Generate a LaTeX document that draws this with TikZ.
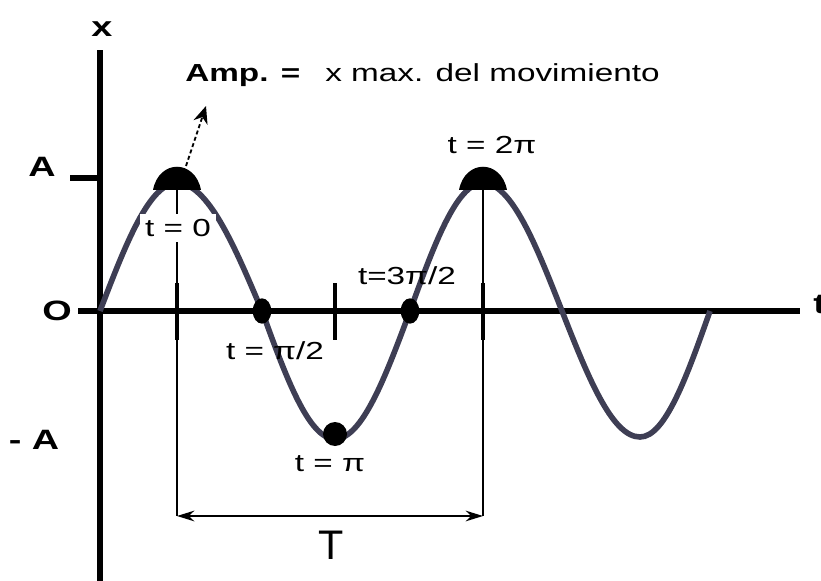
\documentclass[tikz,border=0pt]{standalone}
\usepackage{fontspec}
\setmainfont{Liberation Sans}[FakeStretch=1.35]
\newfontfamily\plainf{Liberation Sans}
\usetikzlibrary{arrows.meta,shapes.geometric}
\definecolor{wavecol}{RGB}{62,62,84}
\begin{document}
\begin{tikzpicture}[x=0.75pt,y=-0.75pt,
  lbl/.style={font=\fontsize{18.5}{20}\selectfont, inner sep=0pt},
  axlbl/.style={font=\fontsize{21}{22}\selectfont\bfseries, inner sep=0pt},
  axisline/.style={line width=5pt},
  tickline/.style={line width=3.6pt},
  guide/.style={line width=1.5pt},
  wave/.style={wavecol, line width=4.2pt},
  zdot/.style={ellipse, fill=black, inner sep=0pt, minimum width=14pt, minimum height=19pt},
  tdot/.style={circle, fill=black, inner sep=0pt, minimum size=18pt},
  blob/.style={fill=black}
]
\useasboundingbox (0,0) rectangle (821,581);

% coordinates
\coordinate (ytop) at (100,50);
\coordinate (ybot) at (100,585);
\coordinate (xl0) at (78,311);
\coordinate (xr0) at (800,311);
\coordinate (atick) at (70,178);
\coordinate (aaxis) at (100,178);
\coordinate (o) at (100,311);
\coordinate (pk1) at (177,183);
\coordinate (z1) at (262,311);
\coordinate (tr1) at (335,439);
\coordinate (z2) at (410,311);
\coordinate (pk2) at (483,183);
\coordinate (z3) at (562,311);
\coordinate (tr2) at (640,437);
\coordinate (z4) at (710,311);
\coordinate (dl) at (177,516);
\coordinate (dr) at (483,516);
\coordinate (g1) at (177,190);
\coordinate (g2) at (483,190);
\coordinate (tk1a) at (177,283);
\coordinate (tk1b) at (177,340);
\coordinate (tk2a) at (335,283);
\coordinate (tk2b) at (335,340);
\coordinate (tk3a) at (483,283);
\coordinate (tk3b) at (483,340);
\coordinate (ampfrom) at (186,166);
\coordinate (ampto) at (206,106);

% axes
\draw[axisline] (ybot) -- (ytop);
\draw[axisline] (xl0) -- (xr0);
\draw[axisline] (atick) -- (aaxis);

% guides and dimension line
\draw[guide] (g1) -- (dl);
\draw[guide] (g2) -- (dr);
\draw[guide, {Stealth[length=13pt,width=8pt]}-{Stealth[length=13pt,width=8pt]}] (dl) -- (dr);

% ticks
\draw[tickline] (tk1a) -- (tk1b);
\draw[tickline] (tk2a) -- (tk2b);
\draw[tickline] (tk3a) -- (tk3b);

% wave
\draw[wave] (o) sin (pk1) cos (z1) sin (tr1) cos (z2) sin (pk2) cos (z3) sin (tr2) cos (z4);

% markers
\fill[blob] (153,190) .. controls (159,159) and (195,159) .. (201,190) -- cycle;
\fill[blob] (459,190) .. controls (465,159) and (501,159) .. (507,190) -- cycle;
\node[zdot] (d1) at (z1) {};
\node[zdot] (d2) at (z2) {};
\node[tdot] (d3) at (335,434) {};

% amplitude pointer
\draw[line width=1.4pt, densely dashed, -{Stealth[length=13pt,width=11pt]}] (ampfrom) -- (ampto);

% labels
\node[axlbl] (xlab) at (102,29) {x};
\node[axlbl] (Alab) at (42,167) {A};
\node[axlbl] (Olab) at (57,311) {O};
\node[axlbl] (mAlab) at (34,440) {- A};
\node[axlbl, anchor=base west] (tlab) at (813,313) {t};
\node[lbl, font=\fontsize{18.5}{20}\selectfont\bfseries, anchor=base west] (amp) at (185,82) {Amp. =};
\node[lbl, anchor=base west] (xmax) at (325,82) {x max. del movimiento};
\node[lbl, fill=white, inner sep=4pt] (t0) at (178,228) {t = 0};
\node[lbl] (tpi2) at (275,351) {t = π/2};
\node[lbl] (t3pi2) at (407,276) {t=3π/2};
\node[lbl] (tpi) at (330,464) {t = π};
\node[lbl] (t2pi) at (492,145) {t = 2π};
\node[font=\plainf\fontsize{31}{32}\selectfont, inner sep=0pt] (Tlab) at (331,545) {T};
\end{tikzpicture}
\end{document}
